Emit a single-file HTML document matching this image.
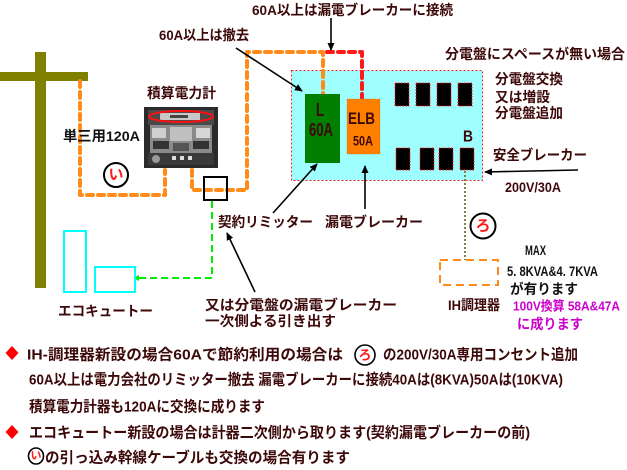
<!DOCTYPE html>
<html><head><meta charset="utf-8">
<style>
html,body{margin:0;padding:0;background:#fff;}
svg{display:block;}
text{font-family:"Liberation Sans","Noto Sans CJK JP",sans-serif;font-weight:bold;dominant-baseline:central;}
.br{fill:#3c0808;}
.bk{fill:#111;}
</style></head>
<body>
<svg width="627" height="470" viewBox="0 0 627 470" xmlns="http://www.w3.org/2000/svg">
<defs>
<marker id="ah" markerWidth="8" markerHeight="8" refX="7" refY="4" orient="auto" markerUnits="userSpaceOnUse">
<path d="M0,0.5 L8,4 L0,7.5 Z" fill="#000"/>
</marker>
<marker id="gh" markerWidth="6" markerHeight="6" refX="5" refY="3" orient="auto" markerUnits="userSpaceOnUse">
<path d="M0,0 L6,3 L0,6 Z" fill="#00ee00"/>
</marker>
</defs>

<!-- pole -->
<rect x="35" y="52" width="11" height="236" fill="#808000"/>
<rect x="0" y="72" width="88" height="9" fill="#808000"/>

<!-- panel -->
<rect x="291.5" y="70.5" width="191" height="110" fill="#9ffefe" stroke="#ff2020" stroke-width="1" stroke-dasharray="2 2"/>

<!-- orange wiring -->
<path d="M80,81 L80,195 L165,195 L165,170" fill="none" stroke="#ff8c1a" stroke-width="4" stroke-dasharray="6 5" stroke-linecap="round" stroke-linejoin="round"/>
<path d="M192,170 L192,190 L247,190 L247,52 L323,52 L323,95" fill="none" stroke="#ff8c1a" stroke-width="4" stroke-dasharray="6 5" stroke-linecap="round" stroke-linejoin="round"/>
<path d="M327,52 L362,52 L362,100" fill="none" stroke="#ff1a1a" stroke-width="4" stroke-dasharray="6 5" stroke-linecap="round" stroke-linejoin="round"/>

<!-- L box & ELB -->
<rect x="305" y="94" width="35" height="69" fill="#007f00"/>
<rect x="347" y="99" width="33" height="55" fill="#ff8000" stroke="#d06000" stroke-width="0.5" stroke-dasharray="1 1"/>
<text x="320" y="110" font-size="18" class="br" text-anchor="middle" textLength="8" lengthAdjust="spacingAndGlyphs">L</text>
<text x="309" y="130" font-size="18" class="br" textLength="24" lengthAdjust="spacingAndGlyphs">60A</text>
<text x="348" y="118.5" font-size="17" class="br" textLength="27" lengthAdjust="spacingAndGlyphs">ELB</text>
<text x="353" y="140.5" font-size="14" class="br" textLength="20" lengthAdjust="spacingAndGlyphs">50A</text>

<!-- breakers -->
<g fill="#000" stroke="#ff2020" stroke-width="1" stroke-dasharray="1.5 1.5">
<rect x="395" y="83" width="14" height="23"/>
<rect x="416" y="83" width="14" height="23"/>
<rect x="437" y="83" width="14" height="23"/>
<rect x="458" y="83" width="14" height="23"/>
<rect x="396" y="148" width="14" height="22"/>
<rect x="420" y="148" width="14" height="22"/>
<rect x="439" y="148" width="14" height="22"/>
<rect x="460" y="148" width="14" height="22"/>
</g>
<text x="463" y="137" font-size="16" class="br" textLength="10" lengthAdjust="spacingAndGlyphs">B</text>

<!-- meter photo -->
<rect x="144" y="107" width="74" height="61" fill="#2b2b2b"/>
<rect x="148" y="110" width="66" height="15" fill="#4a4a4a"/>
<rect x="160" y="113" width="40" height="7" fill="#c8c8c8"/>
<rect x="170" y="115" width="18" height="3" fill="#444"/>
<rect x="150" y="125" width="62" height="28" fill="#8a8a8a"/>
<rect x="152" y="128" width="14" height="10" fill="#d0d0d0"/>
<rect x="170" y="127" width="22" height="14" fill="#c0c0c0"/>
<rect x="196" y="128" width="14" height="10" fill="#d6d6d6"/>
<rect x="153" y="141" width="16" height="8" fill="#333"/>
<rect x="193" y="141" width="16" height="8" fill="#333"/>
<rect x="173" y="143" width="16" height="8" fill="#555"/>
<rect x="148" y="153" width="66" height="12" fill="#3a3a3a"/>
<circle cx="156" cy="159" r="4" fill="#999"/>
<rect x="172" y="156" width="4" height="4" fill="#ddd"/>
<rect x="180" y="156" width="4" height="4" fill="#ddd"/>
<rect x="188" y="156" width="4" height="4" fill="#ddd"/>
<ellipse cx="181" cy="116.5" rx="32" ry="5.5" fill="none" stroke="#ff1010" stroke-width="2"/>

<!-- limiter box -->
<rect x="204" y="177" width="23" height="23" fill="none" stroke="#000" stroke-width="2"/>

<!-- green dashed -->
<path d="M212,201 L212,278 L134,278" fill="none" stroke="#00ee00" stroke-width="2" stroke-dasharray="7 4" marker-end="url(#gh)"/>

<!-- cyan eco cute -->
<rect x="64" y="231" width="22" height="61" fill="none" stroke="#00ffff" stroke-width="2"/>
<rect x="95" y="267" width="40" height="25" fill="none" stroke="#00ffff" stroke-width="2"/>

<!-- olive dotted -->
<line x1="465" y1="171" x2="465" y2="260" stroke="#808040" stroke-width="2" stroke-dasharray="2 2"/>

<!-- IH dashed rect -->
<rect x="440" y="260" width="58" height="25" fill="none" stroke="#ff8c1a" stroke-width="2" stroke-dasharray="8 5"/>

<!-- arrows -->
<g stroke="#000" stroke-width="1.6" fill="none">
<line x1="331" y1="18" x2="331" y2="50" marker-end="url(#ah)"/>
<line x1="236" y1="48" x2="302" y2="91" marker-end="url(#ah)"/>
<line x1="273" y1="213" x2="317" y2="164" marker-end="url(#ah)"/>
<line x1="365" y1="209" x2="365" y2="166" marker-end="url(#ah)"/>
<line x1="255" y1="292" x2="227" y2="233" marker-end="url(#ah)"/>
<line x1="578" y1="170" x2="485" y2="172" marker-end="url(#ah)"/>
</g>

<!-- circles -->
<circle cx="116" cy="175" r="12" fill="#fff" stroke="#000" stroke-width="2"/>
<text x="116" y="175" font-size="15" fill="#ff1a1a" text-anchor="middle">い</text>
<circle cx="483" cy="226" r="12.5" fill="#fff" stroke="#000" stroke-width="2"/>
<text x="483" y="226" font-size="15" fill="#ff1a1a" text-anchor="middle">ろ</text>

<!-- labels -->
<text x="252" y="10" font-size="14" class="br" textLength="201" lengthAdjust="spacingAndGlyphs">60A以上は漏電ブレーカーに接続</text>
<text x="159" y="35" font-size="14" class="br" textLength="90" lengthAdjust="spacingAndGlyphs">60A以上は撤去</text>
<text x="147" y="93" font-size="14" class="br" textLength="69" lengthAdjust="spacingAndGlyphs">積算電力計</text>
<text x="63" y="136" font-size="14" class="bk" textLength="77" lengthAdjust="spacingAndGlyphs">単三用120A</text>
<text x="445" y="54" font-size="14" class="br" textLength="180" lengthAdjust="spacingAndGlyphs">分電盤にスペースが無い場合</text>
<text x="495" y="79" font-size="14" class="br" textLength="68" lengthAdjust="spacingAndGlyphs">分電盤交換</text>
<text x="495" y="97" font-size="14" class="br" textLength="55" lengthAdjust="spacingAndGlyphs">又は増設</text>
<text x="495" y="113" font-size="14" class="br" textLength="68" lengthAdjust="spacingAndGlyphs">分電盤追加</text>
<text x="493" y="155" font-size="14" class="br" textLength="94" lengthAdjust="spacingAndGlyphs">安全ブレーカー</text>
<text x="505" y="187" font-size="14" class="br" textLength="56" lengthAdjust="spacingAndGlyphs">200V/30A</text>
<text x="218" y="222" font-size="14" class="br" textLength="95" lengthAdjust="spacingAndGlyphs">契約リミッター</text>
<text x="325" y="222" font-size="14" class="br" textLength="98" lengthAdjust="spacingAndGlyphs">漏電ブレーカー</text>
<text x="205" y="305" font-size="14" class="br" textLength="192" lengthAdjust="spacingAndGlyphs">又は分電盤の漏電ブレーカー</text>
<text x="205" y="321" font-size="14" class="br" textLength="131" lengthAdjust="spacingAndGlyphs">一次側よる引き出す</text>
<text x="58" y="311" font-size="14" class="br" textLength="95" lengthAdjust="spacingAndGlyphs">エコキュートー</text>
<text x="525" y="250" font-size="14" class="bk" textLength="21" lengthAdjust="spacingAndGlyphs">MAX</text>
<text x="507" y="271" font-size="14" class="bk" textLength="91" lengthAdjust="spacingAndGlyphs">5. 8KVA&amp;4. 7KVA</text>
<text x="510" y="289" font-size="14" class="bk" textLength="68" lengthAdjust="spacingAndGlyphs">が有ります</text>
<text x="448" y="305" font-size="14" class="br" textLength="52" lengthAdjust="spacingAndGlyphs">IH調理器</text>
<text x="513" y="306" font-size="13" fill="#cc00cc" textLength="107" lengthAdjust="spacingAndGlyphs">100V換算 58A&amp;47A</text>
<text x="517" y="324" font-size="14" fill="#cc00cc" textLength="66" lengthAdjust="spacingAndGlyphs">に成ります</text>

<!-- bottom notes -->
<path d="M12,346 L18.5,353 L12,360 L5.5,353 Z" fill="#ff0000"/>
<path d="M12,425 L18.5,432 L12,439 L5.5,432 Z" fill="#ff0000"/>
<text x="27" y="355" font-size="15" class="br" textLength="316" lengthAdjust="spacingAndGlyphs">IH-調理器新設の場合60Aで節約利用の場合は</text>
<circle cx="365" cy="355" r="10" fill="#fff" stroke="#000" stroke-width="1.6"/>
<text x="365" y="355" font-size="13" fill="#ff1a1a" text-anchor="middle">ろ</text>
<text x="383" y="355" font-size="15" class="br" textLength="195" lengthAdjust="spacingAndGlyphs">の200V/30A専用コンセント追加</text>
<text x="29" y="380" font-size="15" class="br" textLength="534" lengthAdjust="spacingAndGlyphs">60A以上は電力会社のリミッター撤去 漏電ブレーカーに接続40Aは(8KVA)50Aは(10KVA)</text>
<text x="29" y="407" font-size="15" class="br" textLength="236" lengthAdjust="spacingAndGlyphs">積算電力計器も120Aに交換に成ります</text>
<text x="29" y="433" font-size="15" class="br" textLength="501" lengthAdjust="spacingAndGlyphs">エコキュートー新設の場合は計器二次側から取ります(契約漏電ブレーカーの前)</text>
<ellipse cx="36" cy="456" rx="7.5" ry="8" fill="#fff" stroke="#000" stroke-width="1.6"/>
<text x="36" y="456" font-size="11" fill="#ff1a1a" text-anchor="middle">い</text>
<text x="45" y="458" font-size="15" class="br" textLength="305" lengthAdjust="spacingAndGlyphs">の引っ込み幹線ケーブルも交換の場合有ります</text>
</svg>
</body></html>
